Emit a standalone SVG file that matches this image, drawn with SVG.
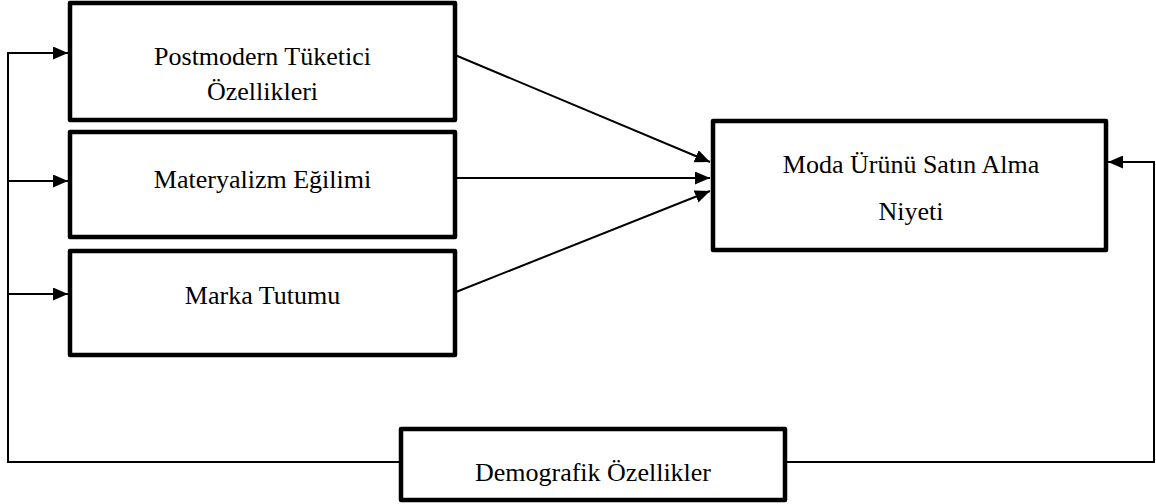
<svg xmlns="http://www.w3.org/2000/svg" width="1156" height="504" viewBox="0 0 1156 504">
<style>
.box{fill:#fff;stroke:#000;stroke-width:4.5;stroke-linejoin:round}
.lbl{font-family:"Liberation Serif","Times New Roman",serif;font-size:26px;fill:#000;text-anchor:middle}
.con{fill:none;stroke:#000;stroke-width:2}
</style>
<defs>
<marker id="ah" viewBox="0 0 15 13" refX="15" refY="6.5" markerWidth="15" markerHeight="13" markerUnits="userSpaceOnUse" orient="auto">
<path d="M0,0 L15,6.5 L0,13 Z" fill="#000"/>
</marker>
</defs>
<g id="connectors">
<path class="con" d="M401,462 H8 V53 H68" marker-end="url(#ah)"/>
<path class="con" d="M8,181 H68" marker-end="url(#ah)"/>
<path class="con" d="M8,294 H68" marker-end="url(#ah)"/>
<path class="con" d="M785,462 H1154 V162 H1108" marker-end="url(#ah)"/>
<path class="con" d="M455,55 L710,162" marker-end="url(#ah)"/>
<path class="con" d="M455,178 L710,178" marker-end="url(#ah)"/>
<path class="con" d="M456,292 L710,191" marker-end="url(#ah)"/>
</g>
<g id="n1"><rect class="box" x="70" y="3" width="385" height="117"/>
<text class="lbl" x="262.5" y="65">Postmodern Tüketici</text>
<text class="lbl" x="262.5" y="100">Özellikleri</text></g>
<g id="n2"><rect class="box" x="70" y="132" width="385" height="105"/>
<text class="lbl" x="262.5" y="188">Materyalizm Eğilimi</text></g>
<g id="n3"><rect class="box" x="70" y="251" width="385" height="104"/>
<text class="lbl" x="262.5" y="304">Marka Tutumu</text></g>
<g id="n4"><rect class="box" x="713" y="121" width="393" height="129"/>
<text class="lbl" x="911" y="173">Moda Ürünü Satın Alma</text>
<text class="lbl" x="911" y="220">Niyeti</text></g>
<g id="n5"><rect class="box" x="401" y="429" width="384" height="71"/>
<text class="lbl" x="593" y="481">Demografik Özellikler</text></g>
</svg>
